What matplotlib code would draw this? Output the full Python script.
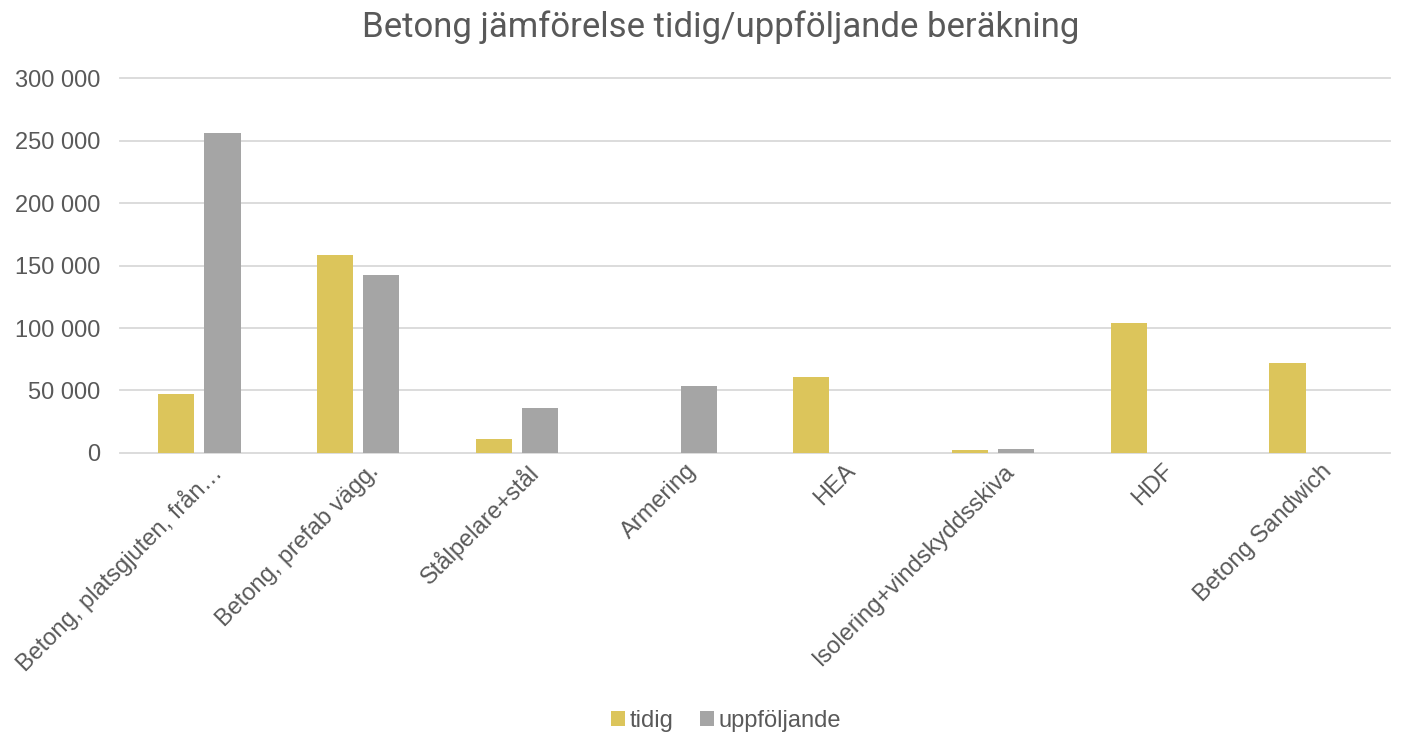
import matplotlib
matplotlib.use('Agg')
import matplotlib.pyplot as plt
import matplotlib.ticker as mticker
import numpy as np

categories = ['Betong, platsgjuten, från…', 'Betong, prefab vägg.', 'Stålpelare+stål', 'Armering',
              'HEA', 'Isolering+vindskyddsskiva', 'HDF', 'Betong Sandwich']
tidig = [47200, 158100, 10900, 0, 61000, 2400, 104300, 72300]
uppfoljande = [255800, 142600, 36300, 53600, 0, 3200, 0, 0]
yticks = [0, 50000, 100000, 150000, 200000, 250000, 300000]

plt.rcParams['font.family'] = ['Liberation Sans', 'DejaVu Sans']
text_col = '#595959'

fig = plt.figure(figsize=(14.04, 7.37), dpi=100)
ax = fig.add_axes([0.0855, 0.3854, 0.9045, 0.5086])

x = np.arange(len(categories))
w = 0.228
gap = 0.032
ax.bar(x - w/2 - gap, tidig, w, color='#DCC55B', label='tidig', zorder=3)
ax.bar(x + w/2 + gap, uppfoljande, w, color='#A5A5A5', label='uppföljande', zorder=3)

ax.set_xlim(-0.5, len(categories) - 0.5)
ax.set_ylim(0, 300000)
ax.set_yticks(yticks)
ax.yaxis.set_major_formatter(mticker.FuncFormatter(lambda v, p: f'{int(v):,}'.replace(',', ' ')))
ax.grid(axis='y', color='#D9D9D9', lw=1.3, zorder=0)
for g in ax.get_ygridlines():
    g.set_clip_on(False)
for s in ax.spines.values():
    s.set_visible(False)
ax.tick_params(axis='both', length=0, labelsize=17, colors=text_col)
ax.tick_params(axis='y', pad=14)
ax.tick_params(axis='x', pad=5)

ax.set_xticks(x)
ax.set_xticklabels(categories, rotation=45, ha='right', rotation_mode='anchor')
for lab in ax.get_xticklabels():
    lab.set_transform(lab.get_transform() + matplotlib.transforms.ScaledTranslation(0.10, 0, fig.dpi_scale_trans))

fig.text(0.513, 0.963, 'Betong jämförelse tidig/uppföljande beräkning', ha='center', va='center',
         fontsize=25, color=text_col, family=['Roboto', 'DejaVu Sans'])

fig.legend(loc='center', bbox_to_anchor=(0.517, 0.022), ncol=2, frameon=False, fontsize=17,
           handlelength=0.6, handleheight=0.6, handletextpad=0.2, columnspacing=1.1, labelcolor=text_col)

fig.savefig('out.png', dpi=100)
